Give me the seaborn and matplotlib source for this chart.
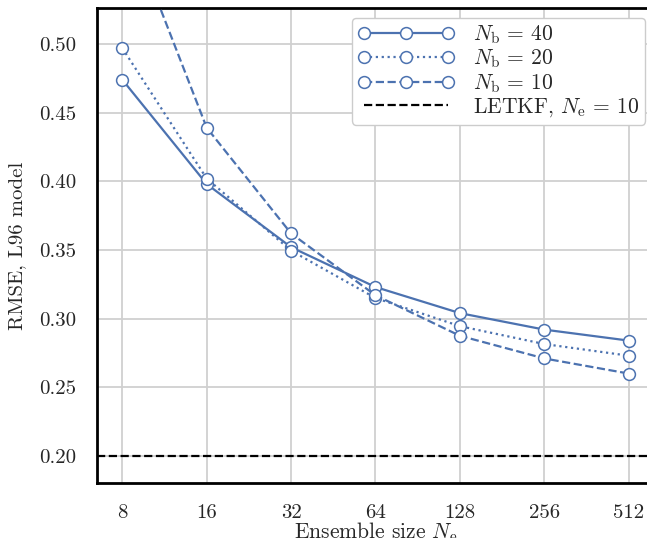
import numpy as np
import pandas as pd
import matplotlib
matplotlib.use("Agg")
import matplotlib.pyplot as plt
import seaborn as sns

ensemble_sizes = [8, 16, 32, 64, 128, 256, 512]
rmse_nb40 = [0.474, 0.398, 0.352, 0.323, 0.304, 0.292, 0.284]
rmse_nb20 = [0.497, 0.402, 0.3495, 0.315, 0.2945, 0.2815, 0.273]
rmse_nb10 = [0.597, 0.439, 0.362, 0.317, 0.2875, 0.271, 0.260]
letkf_rmse = 0.20
series_labels = [r"$N_\mathrm{b}\,=\,40$", r"$N_\mathrm{b}\,=\,20$", r"$N_\mathrm{b}\,=\,10$"]
letkf_label = r"LETKF, $N_\mathrm{e}\,=\,10$"
tick_labels = ["8", "16", "32", "64", "128", "256", "512"]
y_ticks = [0.20, 0.25, 0.30, 0.35, 0.40, 0.45, 0.50]

sns.set_theme(style="whitegrid")
plt.rcParams["font.family"] = ["cmr10", "DejaVu Serif"]
plt.rcParams["mathtext.fontset"] = "cm"
plt.rcParams["axes.formatter.use_mathtext"] = True

rows = []
for lab, vals in zip(series_labels, [rmse_nb40, rmse_nb20, rmse_nb10]):
    for n, v in zip(ensemble_sizes, vals):
        rows.append({"Ne": n, "RMSE": v, "series": lab})
df = pd.DataFrame(rows)

fig = plt.figure(figsize=(6.47, 5.38), dpi=100)
ax = fig.add_axes([97 / 647, 55 / 538, 557 / 647, 475 / 538])

color = "#4c72b0"
styles = ["-", ":", "--"]
for lab, ls in zip(series_labels, styles):
    sub = df[df["series"] == lab]
    sns.lineplot(data=sub, x="Ne", y="RMSE", ax=ax, color=color, linestyle=ls,
                 linewidth=1.6, marker="o", markersize=8.5, markerfacecolor="white",
                 markeredgecolor=color, markeredgewidth=1.1, label=lab, zorder=3)

ax.axhline(letkf_rmse, color="black", linestyle="--", linewidth=1.6, label=letkf_label, zorder=2)

ax.set_xscale("log", base=2)
ax.set_xlim(8 * 2 ** -0.3, 512 * 2 ** 0.3)
ax.set_ylim(0.1803, 0.5262)
ax.set_xticks(ensemble_sizes)
ax.set_xticklabels(tick_labels)
ax.minorticks_off()
ax.set_yticks(y_ticks)
ax.set_yticklabels([f"{v:.2f}" for v in y_ticks])
ax.tick_params(labelsize=15, pad=9)
ax.set_xlabel(r"Ensemble size $N_\mathrm{e}$", fontsize=15.5, labelpad=-1)
ax.set_ylabel("RMSE, L96 model", fontsize=15, labelpad=9)

ax.grid(True, color="#d0d0d0", linewidth=1.3)
for s in ax.spines.values():
    s.set_color("black")
    s.set_linewidth(2.0)

handles, labels = ax.get_legend_handles_labels()
leg = ax.legend(handles, labels, loc="upper right", bbox_to_anchor=(0.984, 0.979),
                borderaxespad=0.0,
                fontsize=15.5, frameon=True, fancybox=True, framealpha=1.0,
                handlelength=4.5, numpoints=3,
                borderpad=0.25, labelspacing=0.08, handletextpad=0.9)
leg.get_frame().set_edgecolor("#cccccc")

fig.savefig("out.png", dpi=100)
